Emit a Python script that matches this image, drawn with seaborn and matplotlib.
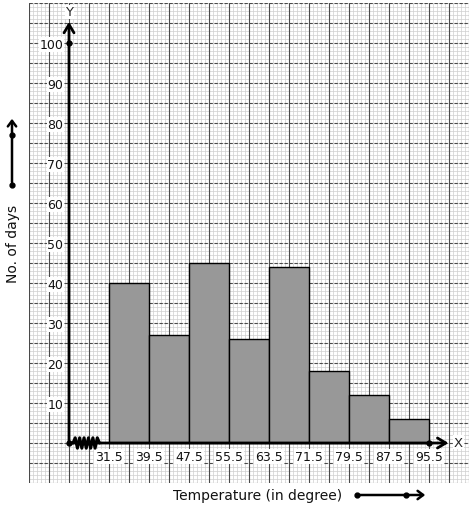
import numpy as np
import pandas as pd
import matplotlib
matplotlib.use("Agg")
import matplotlib.pyplot as plt
import seaborn as sns

# ---- data ----
class_edges = [31.5, 39.5, 47.5, 55.5, 63.5, 71.5, 79.5, 87.5, 95.5]
days = [40, 27, 45, 26, 44, 18, 12, 6]
y_ticks = [10, 20, 30, 40, 50, 60, 70, 80, 90, 100]
x_tick_labels = ["31.5", "39.5", "47.5", "55.5", "63.5", "71.5", "79.5", "87.5", "95.5"]

mids = [(a + b) / 2 for a, b in zip(class_edges[:-1], class_edges[1:])]
df = pd.DataFrame({"temp": mids, "days": days})

sns.set_theme(style="white")
plt.rcParams['font.family'] = ['DejaVu Sans']

W, H = 474, 510
fig = plt.figure(figsize=(W / 100, H / 100), dpi=100)
fig.patch.set_facecolor("white")
ax = fig.add_axes([29 / W, 1 - 484 / H, 440 / W, 480 / H])
x0, x1, y0, y1 = 15.5, 103.5, -10, 110
ax.set_xlim(x0, x1)
ax.set_ylim(y0, y1)
ax.set_facecolor("white")

# graph paper
for xv in np.arange(x0, x1 + 0.01, 0.8):
    ax.axvline(xv, color="#cfcfcf", lw=0.5, zorder=0.2)
for yv in np.arange(y0, y1 + 0.01, 1):
    ax.axhline(yv, color="#cfcfcf", lw=0.5, zorder=0.2)
for xv in np.arange(x0, x1 + 0.01, 4):
    ax.axvline(xv, color="#4a4a4a", lw=0.8, zorder=0.3)
for yv in np.arange(y0, y1 + 0.01, 5):
    ax.axhline(yv, color="#4a4a4a", lw=0.8, ls=(0, (3, 1.5)), zorder=0.3)

# histogram
sns.histplot(data=df, x="temp", weights="days", bins=class_edges, ax=ax,
             color="#989898", edgecolor="black", linewidth=1.0, alpha=1, zorder=2)

# axes placement
for s in ["top", "right"]:
    ax.spines[s].set_visible(False)
ax.spines["left"].set_position(("data", 23.5))
ax.spines["bottom"].set_position(("data", 0))
ax.spines["left"].set_visible(False)
ax.spines["bottom"].set_visible(False)

ax.set_yticks(y_ticks)
ax.set_yticklabels([str(v) for v in y_ticks])
ax.set_xticks(class_edges)
ax.set_xticklabels(x_tick_labels)
ax.tick_params(axis="y", length=0, pad=4, labelsize=9, labelcolor="#111111")
ax.tick_params(axis="x", length=0, pad=5, labelsize=9, labelcolor="#111111")
for lab in ax.get_yticklabels() + ax.get_xticklabels():
    lab.set_bbox(dict(facecolor="white", edgecolor="none", pad=0.6))
ax.set_xlabel("")
ax.set_ylabel("")

# axis lines with arrows
ax.annotate("", xy=(23.5, 105.3), xytext=(23.5, 0),
            arrowprops=dict(arrowstyle="->,head_length=0.5,head_width=0.3", lw=2, color="black",
                            shrinkA=0, shrinkB=0), zorder=5)
ax.annotate("", xy=(99.4, 0), xytext=(23.5, 0),
            arrowprops=dict(arrowstyle="->,head_length=0.5,head_width=0.3", lw=2, color="black",
                            shrinkA=0, shrinkB=0), zorder=5)
ax.plot([23.5, 23.5, 95.5], [0, 100, 0], "o", color="black", ms=3.5, zorder=6)
ax.text(23.6, 107.8, "Y", ha="center", va="center", fontsize=9.5,
        bbox=dict(facecolor="white", edgecolor="none", pad=0.5), zorder=6)
ax.text(101.4, 0.2, "X", ha="center", va="center", fontsize=9.5,
        bbox=dict(facecolor="white", edgecolor="none", pad=0.5), zorder=6)

# kink (zigzag) on the x axis
zx = np.linspace(24.3, 29.6, 13)
zy = np.array([0 if i in (0, 12) else (1.3 if i % 2 else -1.3) for i in range(13)])
ax.plot(zx, zy, color="black", lw=2.2, zorder=6, solid_joinstyle="round")

# outer labels
fig.text(258 / W, 1 - 496 / H, "Temperature (in degree)", ha="center", va="center",
         fontsize=10, color="#111111")
fig.text(13 / W, 1 - 244 / H, "No. of days", ha="center", va="center",
         rotation=90, fontsize=10, color="#111111")

# decorative arrows
fig.add_artist(matplotlib.patches.FancyArrowPatch(
    (357 / W, 1 - 496 / H), (428 / W, 1 - 496 / H), transform=fig.transFigure,
    arrowstyle="->,head_length=4,head_width=3", lw=1.8, color="black"))
fig.add_artist(matplotlib.lines.Line2D([357 / W, 406 / W], [1 - 496 / H] * 2,
                                       transform=fig.transFigure, marker="o", ls="none",
                                       ms=3.5, color="black"))
fig.add_artist(matplotlib.patches.FancyArrowPatch(
    (12 / W, 1 - 186 / H), (12 / W, 1 - 117 / H), transform=fig.transFigure,
    arrowstyle="->,head_length=4,head_width=3", lw=1.8, color="black"))
fig.add_artist(matplotlib.lines.Line2D([12 / W, 12 / W], [1 - 186 / H, 1 - 136 / H],
                                       transform=fig.transFigure, marker="o", ls="none",
                                       ms=3.5, color="black"))

fig.savefig("out.png", dpi=100, facecolor="white")
